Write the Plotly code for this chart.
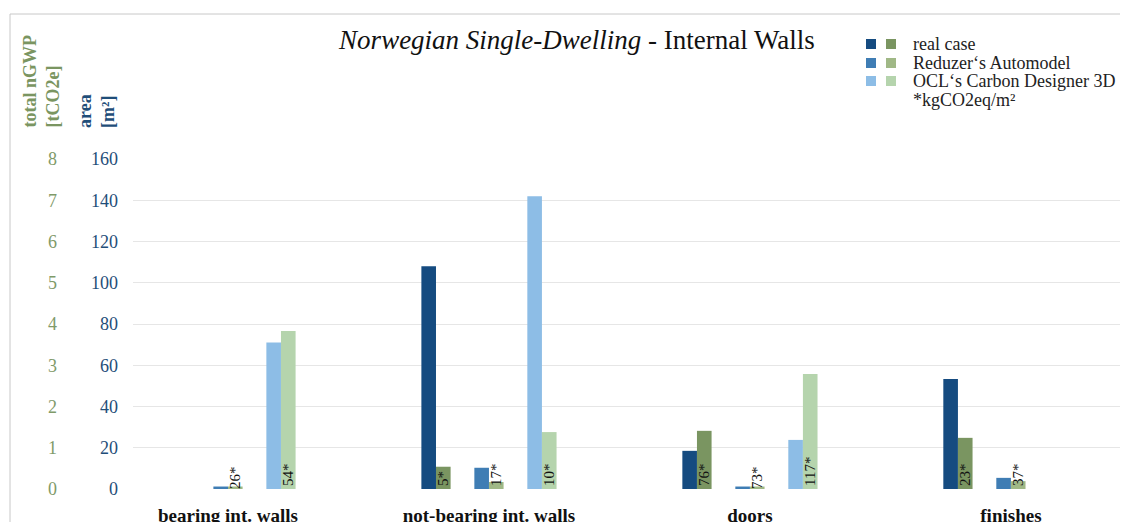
import plotly.graph_objects as go

categories = ["bearing int. walls", "not-bearing int. walls", "doors", "finishes"]
series = ["real case", "Reduzer‘s Automodel", "OCL‘s Carbon Designer 3D"]

# area [m²] per series
area_real = [0, 108, 18.5, 53.3]
area_reduzer = [1.2, 10.3, 1.2, 5.4]
area_ocl = [71, 142, 23.8, 0]

# total nGWP [tCO2e] per series
gwp_real = [0, 0.54, 1.41, 1.24]
gwp_reduzer = [0.06, 0.17, 0.06, 0.19]
gwp_ocl = [3.83, 1.38, 2.79, 0]

# kgCO2eq/m² labels
lab_real = ["", "5*", "76*", "23*"]
lab_reduzer = ["26*", "17*", "73*", "37*"]
lab_ocl = ["54*", "10*", "117*", ""]

area_ticks = [0, 20, 40, 60, 80, 100, 120, 140, 160]
gwp_ticks = [0, 1, 2, 3, 4, 5, 6, 7, 8]

blues = ["#154b80", "#3f7db4", "#8dbde6"]
greens = ["#7a9561", "#a0b886", "#b5d4ad"]

SERIF = "Liberation Serif"
BAR_W = 0.056
PAIR_STEP = 0.203

areas = [area_real, area_reduzer, area_ocl]
gwps = [gwp_real, gwp_reduzer, gwp_ocl]
labels = [lab_real, lab_reduzer, lab_ocl]

fig = go.Figure()
for i, name in enumerate(series):
    shift = (i - 1) * PAIR_STEP
    fig.add_trace(go.Bar(
        x=categories, y=areas[i], name=name + " area",
        marker=dict(color=blues[i], line=dict(width=0)),
        width=BAR_W, offset=shift - BAR_W, yaxis="y", showlegend=False,
    ))
    fig.add_trace(go.Bar(
        x=categories, y=gwps[i], name=name + " nGWP",
        marker=dict(color=greens[i], line=dict(width=0)),
        width=BAR_W, offset=shift, yaxis="y2", showlegend=False,
        text=labels[i], textposition="inside", insidetextanchor="start",
        textangle=-90, constraintext="none", cliponaxis=False,
        textfont=dict(family=SERIF, size=15, color="#111111"),
    ))

# page body has an 8 px margin; targets below are in screen pixels
OFF = 8
L, R = 2, 16
T, B = 151, 41
W = 1128 - L - R
H = 522 - T - B
x0_dom = (133 - OFF - L) / W


def px_x(p):
    return (p - OFF - L) / W


def px_y(p):
    return (489 - p) / H


fig.update_layout(
    width=1128, height=522,
    margin=dict(l=L, r=R, t=T, b=B, autoexpand=False),
    paper_bgcolor="white", plot_bgcolor="white",
    barmode="overlay",
    font=dict(family=SERIF),
    title=dict(
        text="<i>Norwegian Single-Dwelling</i> - Internal Walls",
        x=px_x(577), xref="paper", xanchor="center",
        y=1 - (40 - OFF) / 522, yanchor="middle",
        font=dict(family=SERIF, size=27, color="#111111"),
    ),
    xaxis=dict(
        domain=[x0_dom, 1], range=[-0.364, 3.418], automargin=False,
        showgrid=False, showline=False, zeroline=False,
        ticks="", ticklabelstandoff=13,
        tickfont=dict(family=SERIF, size=19, color="#111111", weight="bold"),
    ),
    yaxis=dict(
        range=[0, 160], tickvals=area_ticks, anchor="x", automargin=False,
        showgrid=True, gridcolor="#e6e6e6", gridwidth=1,
        zeroline=False, showline=False, ticks="", ticklabelstandoff=14,
        tickfont=dict(family=SERIF, size=18, color="#1f4e79"),
    ),
    yaxis2=dict(
        range=[0, 8], tickvals=gwp_ticks, overlaying="y", anchor="free",
        side="left", position=px_x(60), automargin=False,
        showgrid=False, zeroline=False, showline=False, ticks="",
        ticklabelstandoff=3,
        tickfont=dict(family=SERIF, size=18, color="#7f9a69"),
    ),
)

# axis titles
fig.add_annotation(
    text="total nGWP<br>[tCO2e]", textangle=-90, align="left",
    xref="paper", yref="paper", x=px_x(41), xanchor="center",
    y=px_y(130), yanchor="bottom", showarrow=False,
    font=dict(family=SERIF, size=18, color="#7a9561", weight="bold"),
)
fig.add_annotation(
    text="area<br>[m²]", textangle=-90, align="left",
    xref="paper", yref="paper", x=px_x(96), xanchor="center",
    y=px_y(130), yanchor="bottom", showarrow=False,
    font=dict(family=SERIF, size=18, color="#1f4e79", weight="bold"),
)

# legend (paired squares)
rows_y = [44, 63, 81]
for i, name in enumerate(series):
    cy = rows_y[i]
    for sx, col in ((866, blues[i]), (886, greens[i])):
        fig.add_shape(type="rect", xref="paper", yref="paper",
                      x0=px_x(sx), x1=px_x(sx + 10),
                      y0=px_y(cy + 5), y1=px_y(cy - 5),
                      fillcolor=col, line=dict(width=0))
    fig.add_annotation(text=name, xref="paper", yref="paper",
                       x=px_x(911), y=px_y(cy), xanchor="left", yanchor="middle",
                       showarrow=False,
                       font=dict(family=SERIF, size=18, color="#222222"))
fig.add_annotation(text="*kgCO2eq/m²", xref="paper", yref="paper",
                   x=px_x(911), y=px_y(100), xanchor="left", yanchor="middle",
                   showarrow=False,
                   font=dict(family=SERIF, size=18, color="#222222"))

# outer frame
fig.add_shape(type="line", xref="paper", yref="paper",
              x0=px_x(10), x1=px_x(1140), y0=px_y(14), y1=px_y(14),
              line=dict(color="#c8c8c8", width=1))
fig.add_shape(type="line", xref="paper", yref="paper",
              x0=px_x(10), x1=px_x(10), y0=px_y(14), y1=px_y(540),
              line=dict(color="#c8c8c8", width=1))

fig.write_html("out.html")
